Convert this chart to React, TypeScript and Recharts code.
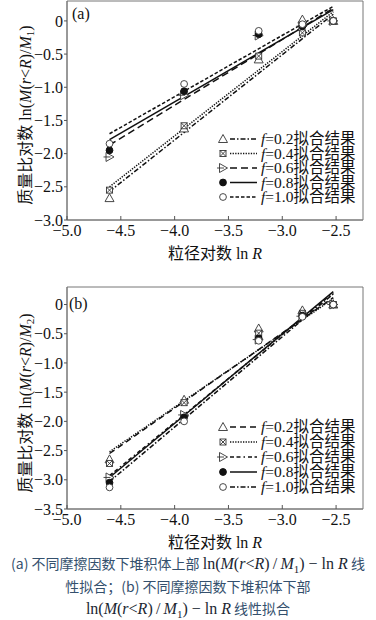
import React from 'react';
import { ScatterChart, Scatter, XAxis, YAxis, ReferenceArea, Customized } from 'recharts';

// ---- data ----
const lnR = [-4.605, -3.912, -3.219, -2.813, -2.526];
const fitX = [-4.605, -2.526];
const xTicks = [-5, -4.5, -4, -3.5, -3, -2.5];
const yTicksA = [-3, -2.5, -2, -1.5, -1, -0.5, 0];
const yTicksB = [-3.5, -3, -2.5, -2, -1.5, -1, -0.5, 0];
const fLabels = ['0.2', '0.4', '0.6', '0.8', '1.0'];

// panel (a): upper part
const a02 = [-2.67, -1.62, -0.58, 0.02, 0];
const a04 = [-2.55, -1.58, -0.53, -0.18, 0];
const a06 = [-2.05, -1.12, -0.22, -0.08, 0];
const a08 = [-1.95, -1.06, -0.2, -0.08, 0];
const a10 = [-1.85, -0.95, -0.15, -0.05, 0];
const fitA02 = [-2.57, 0.1];
const fitA04 = [-2.5, 0.14];
const fitA06 = [-1.87, 0.19];
const fitA08 = [-1.79, 0.17];
const fitA10 = [-1.7, 0.22];

// panel (b): lower part
const b02 = [-2.65, -1.63, -0.41, -0.1, 0];
const b04 = [-2.72, -1.68, -0.49, -0.15, 0];
const b06 = [-2.96, -1.89, -0.6, -0.2, 0];
const b08 = [-3.05, -1.93, -0.58, -0.19, 0];
const b10 = [-3.13, -2.0, -0.62, -0.21, 0];
const fitB02 = [-2.55, 0.12];
const fitB04 = [-2.52, 0.1];
const fitB06 = [-2.93, 0.2];
const fitB08 = [-2.96, 0.22];
const fitB10 = [-3.03, 0.18];

const SERIF = "'Liberation Serif', 'Times New Roman', 'Noto Sans CJK SC', serif";
const INK = '#111';

const pts = (xs: number[], ys: number[]) => ys.map((y, i) => ({ x: xs[i], y }));
const fmt = (v: number) => (v === 0 ? '0' : v.toFixed(1).replace('-', '\u2212'));

type Kind = 'tri' | 'xsq' | 'rtri' | 'dot' | 'circ';

function Mark({ kind, cx, cy }: { kind: Kind; cx: number; cy: number }) {
  const s = '#333';
  if (kind === 'tri')
    return (
      <polygon
        points={`${cx},${cy - 4.5} ${cx - 4.5},${cy + 3.5} ${cx + 4.5},${cy + 3.5}`}
        fill="#fff"
        stroke={s}
        strokeWidth={0.9}
      />
    );
  if (kind === 'xsq')
    return (
      <g stroke={s} strokeWidth={0.9} fill="#fff">
        <rect x={cx - 3} y={cy - 3} width={6} height={6} />
        <line x1={cx - 3} y1={cy - 3} x2={cx + 3} y2={cy + 3} />
        <line x1={cx + 3} y1={cy - 3} x2={cx - 3} y2={cy + 3} />
      </g>
    );
  if (kind === 'rtri')
    return (
      <g stroke={s} strokeWidth={0.9}>
        <polygon points={`${cx - 3.5},${cy - 4.5} ${cx + 4.5},${cy} ${cx - 3.5},${cy + 4.5}`} fill="#fff" />
        <line x1={cx - 6} y1={cy} x2={cx + 1} y2={cy} />
      </g>
    );
  if (kind === 'dot') return <circle cx={cx} cy={cy} r={3.4} fill="#111" stroke="#111" />;
  return <circle cx={cx} cy={cy} r={3.4} fill="#fff" stroke={s} strokeWidth={0.9} />;
}

type Series = { ys: number[]; fit: number[]; kind: Kind; dash: string };

const seriesA: Series[] = [
  { ys: a02, fit: fitA02, kind: 'tri', dash: '5 2 1.5 2' },
  { ys: a04, fit: fitA04, kind: 'xsq', dash: '1.3 1.3' },
  { ys: a06, fit: fitA06, kind: 'rtri', dash: '7 4' },
  { ys: a08, fit: fitA08, kind: 'dot', dash: '' },
  { ys: a10, fit: fitA10, kind: 'circ', dash: '3.5 2' },
];
const seriesB: Series[] = [
  { ys: b02, fit: fitB02, kind: 'tri', dash: '6 4' },
  { ys: b04, fit: fitB04, kind: 'xsq', dash: '1.3 1.3' },
  { ys: b06, fit: fitB06, kind: 'rtri', dash: '4 2.5 4 3 1.5 3' },
  { ys: b08, fit: fitB08, kind: 'dot', dash: '' },
  { ys: b10, fit: fitB10, kind: 'circ', dash: '5 2 1.5 2' },
];

const XTick = (p: any) => {
  const { x, y, payload } = p;
  return (
    <g>
      <line x1={x} x2={x} y1={y} y2={y - 4} stroke="#555" />
      <text x={x} y={y + 16} textAnchor="middle" fontFamily={SERIF} fontSize={16} fill={INK}>
        {fmt(payload.value)}
      </text>
    </g>
  );
};

function Overlay({
  series,
  legendTop,
  legendStep,
  tag,
  tagX,
  tagY,
  yLabelY,
  sub,
  titleY,
}: {
  series: Series[];
  legendTop: number;
  legendStep: number;
  tag: string;
  tagX: number;
  tagY: number;
  yLabelY: number;
  sub: string;
  titleY: number;
}) {
  return (
    <g fontFamily={SERIF} fill={INK}>
      <text x={tagX} y={tagY} fontSize={16}>
        {tag}
      </text>
      {series.map((s, i) => {
        const cy = legendTop + i * legendStep;
        return (
          <g key={i}>
            <Mark kind={s.kind} cx={223} cy={cy} />
            <line
              x1={230}
              x2={257}
              y1={cy}
              y2={cy}
              stroke={INK}
              strokeWidth={1.5}
              strokeDasharray={s.dash || undefined}
            />
            <text x={261} y={cy + 5} fontSize={15.5}>
              <tspan fontStyle="italic">f</tspan>
              <tspan>{'=' + fLabels[i] + '拟合结果'}</tspan>
            </text>
          </g>
        );
      })}
      <text x={26} y={yLabelY} fontSize={16} textAnchor="middle" transform={`rotate(-90 26 ${yLabelY})`} dy={5}>
        <tspan>{'质量比对数 ln('}</tspan>
        <tspan fontStyle="italic">M</tspan>
        <tspan>(</tspan>
        <tspan fontStyle="italic">r</tspan>
        <tspan>{'<'}</tspan>
        <tspan fontStyle="italic">R</tspan>
        <tspan>)/</tspan>
        <tspan fontStyle="italic">M</tspan>
        <tspan fontSize={11} dy={3}>
          {sub}
        </tspan>
        <tspan dy={-3}>)</tspan>
      </text>
      <text x={215} y={titleY} fontSize={16} textAnchor="middle">
        <tspan>{'粒径对数 ln '}</tspan>
        <tspan fontStyle="italic">R</tspan>
      </text>
    </g>
  );
}

function Panel({
  height,
  top,
  bottom,
  yDomain,
  yTicks,
  series,
  overlay,
}: {
  height: number;
  top: number;
  bottom: number;
  yDomain: [number, number];
  yTicks: number[];
  series: Series[];
  overlay: React.ReactElement;
}) {
  return (
    <ScatterChart width={376} height={height} margin={{ top, right: 13, bottom: 0, left: 0 }}>
      <XAxis
        dataKey="x"
        type="number"
        domain={[-5, -2.25]}
        ticks={xTicks}
        interval={0}
        allowDataOverflow
        height={bottom}
        tickSize={0}
        tickMargin={0}
        tickLine={false}
        axisLine={{ stroke: '#777' }}
        tick={<XTick />}
      />
      <YAxis
        dataKey="y"
        type="number"
        domain={yDomain}
        ticks={yTicks}
        interval={0}
        allowDataOverflow
        width={67}
        tickSize={3}
        tickMargin={1}
        axisLine={{ stroke: '#777' }}
        tickLine={{ stroke: '#555' }}
        tick={{ fontFamily: SERIF, fontSize: 16, fill: INK }}
        tickFormatter={fmt}
      />
      <ReferenceArea x1={-5} x2={-2.25} y1={yDomain[0]} y2={yDomain[1]} fill="none" stroke="#777" strokeWidth={1} />
      {series.map((s, i) => (
        <Scatter
          key={'f' + i}
          data={pts(fitX, s.fit)}
          line={{ stroke: INK, strokeWidth: 1.5, strokeDasharray: s.dash || undefined }}
          shape={() => <g />}
          isAnimationActive={false}
        />
      ))}
      {series.map((s, i) => (
        <Scatter
          key={'m' + i}
          data={pts(lnR, s.ys)}
          shape={(p: any) => <Mark kind={s.kind} cx={p.cx} cy={p.cy} />}
          isAnimationActive={false}
        />
      ))}
      <Customized component={overlay} />
    </ScatterChart>
  );
}

const capZh: React.CSSProperties = { fontSize: 14, color: '#34506d', fontFamily: "'Noto Sans CJK SC', sans-serif" };
const capMath: React.CSSProperties = { fontSize: 16, color: '#1b2631', fontFamily: SERIF };
const subStyle: React.CSSProperties = { fontSize: 11, verticalAlign: 'baseline', position: 'relative', top: 4, lineHeight: 0 };

function MathExpr() {
  return (
    <span style={capMath}>
      ln(<i>M</i>(<i>r</i>&lt;<i>R</i>)&thinsp;/&thinsp;<i>M</i>
      <span style={subStyle}>1</span>) − ln <i>R</i>
    </span>
  );
}

const lineStyle: React.CSSProperties = { height: 22.5, lineHeight: '22.5px', overflow: 'visible' };

export default function App() {
  return (
    <div style={{ width: 376, background: '#fff' }}>
      <style>{'body{margin:0;background:#fff}'}</style>
      <Panel
        height={262}
        top={1}
        bottom={42}
        yDomain={[-3, 0.3]}
        yTicks={yTicksA}
        series={seriesA}
        overlay={
          <Overlay
            series={seriesA}
            legendTop={139}
            legendStep={14.5}
            tag="(a)"
            tagX={72}
            tagY={19}
            yLabelY={115}
            sub="1"
            titleY={259}
          />
        }
      />
      <Panel
        height={290}
        top={25}
        bottom={43}
        yDomain={[-3.5, 0.3]}
        yTicks={yTicksB}
        series={seriesB}
        overlay={
          <Overlay
            series={seriesB}
            legendTop={165}
            legendStep={15}
            tag="(b)"
            tagX={69}
            tagY={47}
            yLabelY={141}
            sub="2"
            titleY={286}
          />
        }
      />
      <div style={{ textAlign: 'center', width: 376, whiteSpace: 'nowrap' }}>
        <div style={lineStyle}>
          <span style={capZh}>(a) 不同摩擦因数下堆积体上部 </span>
          <MathExpr />
          <span style={capZh}> 线</span>
        </div>
        <div style={lineStyle}>
          <span style={capZh}>性拟合；(b) 不同摩擦因数下堆积体下部</span>
        </div>
        <div style={lineStyle}>
          <MathExpr />
          <span style={capZh}> 线性拟合</span>
        </div>
      </div>
    </div>
  );
}
